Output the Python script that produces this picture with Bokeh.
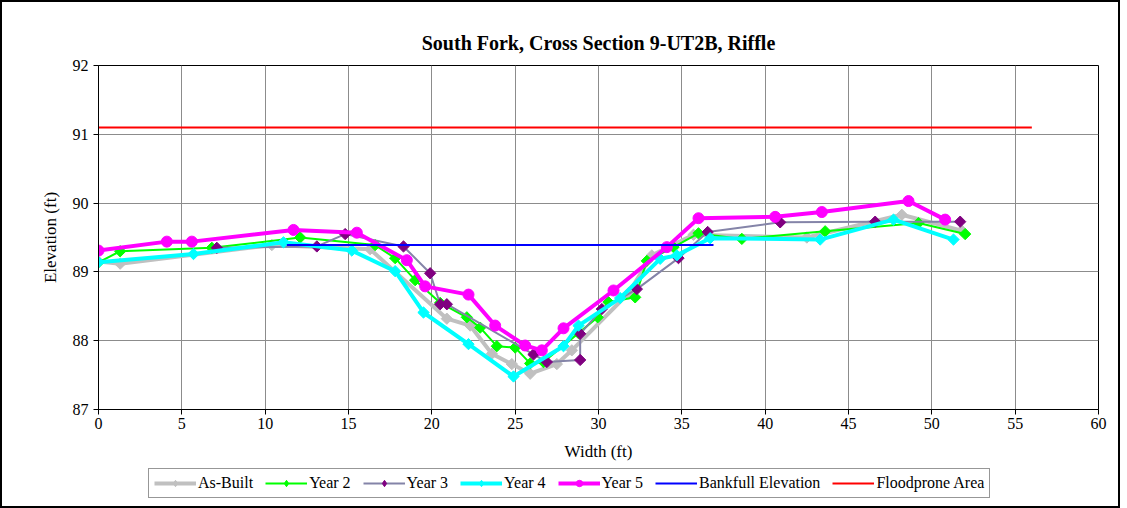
import math
from bokeh.plotting import figure
from bokeh.models import Range1d, Legend, LegendItem, FixedTicker
from bokeh.layouts import column
from bokeh.embed import file_html
from bokeh.resources import INLINE

# ---- data ----
asbuilt_x = [0, 1.3, 10.4, 16.3, 20.9, 22.3, 23.6, 24.8, 25.9, 27.5, 28.4, 31.8, 33.2, 35.7, 42.5, 48.2, 51.8]
asbuilt_y = [89.15, 89.12, 89.39, 89.33, 88.32, 88.22, 87.81, 87.66, 87.52, 87.66, 87.86, 88.69, 89.24, 89.54, 89.5, 89.83, 89.6]

year2_x = [0, 1.3, 6.8, 12.1, 16.6, 17.8, 19.0, 20.5, 22.1, 22.9, 23.9, 25.0, 25.9, 26.7, 28.8, 29.95, 30.6, 32.2, 32.9, 34.5, 36.0, 38.6, 43.6, 49.2, 52.0]
year2_y = [89.14, 89.3, 89.35, 89.5, 89.39, 89.2, 88.88, 88.55, 88.34, 88.19, 87.92, 87.9, 87.67, 87.69, 88.11, 88.34, 88.56, 88.63, 89.16, 89.36, 89.56, 89.48, 89.59, 89.71, 89.55]

year3_x = [7.1, 13.1, 14.8, 18.3, 19.9, 20.5, 20.9, 26.1, 26.9, 28.9, 28.9, 30.2, 32.3, 34.8, 36.55, 40.9, 46.6, 51.7]
year3_y = [89.35, 89.37, 89.55, 89.37, 88.98, 88.53, 88.53, 87.8, 87.69, 87.72, 88.1, 88.46, 88.75, 89.2, 89.58, 89.72, 89.73, 89.73]

year4_x = [0, 5.7, 11.1, 15.2, 17.8, 19.5, 22.2, 24.9, 27.9, 28.8, 31.3, 33.7, 34.7, 36.7, 43.3, 47.7, 51.3]
year4_y = [89.14, 89.26, 89.43, 89.31, 89.01, 88.41, 87.95, 87.48, 87.92, 88.22, 88.62, 89.19, 89.24, 89.49, 89.47, 89.76, 89.47]

year5_x = [0, 4.1, 5.6, 11.7, 15.5, 18.5, 19.6, 22.2, 23.8, 25.6, 26.6, 27.9, 30.9, 34.1, 36.0, 40.6, 43.4, 48.6, 50.8]
year5_y = [89.31, 89.44, 89.44, 89.61, 89.57, 89.17, 88.79, 88.67, 88.22, 87.93, 87.86, 88.18, 88.73, 89.36, 89.78, 89.8, 89.87, 90.03, 89.76]

bankfull_x = [11.3, 36.9]
bankfull_y = [89.39, 89.39]

flood_x = [0, 56]
flood_y = [91.1, 91.1]

series_names = ["As-Built", "Year 2", "Year 3", "Year 4", "Year 5", "Bankfull Elevation", "Floodprone Area"]

x_ticks = [0, 5, 10, 15, 20, 25, 30, 35, 40, 45, 50, 55, 60]
y_ticks = [87, 88, 89, 90, 91, 92]

FONT = "Liberation Serif"

# style per series: (line color, line width, marker, marker color)
styles = [
    ("#c0c0c0", 4, "square", "#c0c0c0"),
    ("#00ff00", 2, "square", "#00ff00"),
    ("#8484a8", 2, "square", "#800080"),
    ("#00ffff", 4, "square", "#00ffff"),
    ("#ff00ff", 4, "circle", "#ff00ff"),
    ("#0000ff", 2, None, None),
    ("#ff0000", 2, None, None),
]
MARK_SIZE = {"square": 8, "circle": 11}
LEG_MARK = {"square": ("diamond", 10), "circle": ("circle", 10)}

p = figure(width=1116, height=463, output_backend="svg", toolbar_location=None,
           x_range=Range1d(0, 60), y_range=Range1d(87, 92),
           title="South Fork, Cross Section 9-UT2B, Riffle",
           min_border_left=96, min_border_right=20, min_border_top=63, min_border_bottom=56)

p.title.align = "center"
p.title.text_font = FONT
p.title.text_font_size = "20px"
p.title.text_font_style = "bold"
p.title.text_color = "black"
p.title.standoff = 23

for ax in (p.xaxis, p.yaxis):
    ax.axis_label_text_font = FONT
    ax.axis_label_text_font_size = "17px"
    ax.axis_label_text_font_style = "normal"
    ax.axis_label_text_color = "black"
    ax.major_label_text_font = FONT
    ax.major_label_text_font_size = "16px"
    ax.major_label_text_color = "black"
    ax.axis_line_color = "black"
    ax.major_tick_line_color = "black"
    ax.major_tick_out = 5
    ax.major_tick_in = 0
    ax.minor_tick_line_color = None

p.xaxis.axis_label = "Width (ft)"
p.yaxis.axis_label = "Elevation (ft)"
p.xaxis.ticker = FixedTicker(ticks=x_ticks)
p.yaxis.ticker = FixedTicker(ticks=y_ticks)
p.xaxis.major_label_standoff = 3
p.yaxis.major_label_standoff = 5
p.xaxis.axis_label_standoff = 10
p.yaxis.axis_label_standoff = 10

p.xgrid.ticker = FixedTicker(ticks=x_ticks)
p.ygrid.ticker = FixedTicker(ticks=y_ticks)
p.grid.grid_line_color = "#8c8c8c"
p.grid.grid_line_width = 1
p.outline_line_color = "black"

data = [(asbuilt_x, asbuilt_y), (year2_x, year2_y), (year3_x, year3_y), (year4_x, year4_y),
        (year5_x, year5_y), (bankfull_x, bankfull_y), (flood_x, flood_y)]
for (xs, ys), (lc, lw, mk, mc) in zip(data, styles):
    p.line(xs, ys, line_color=lc, line_width=lw)
    if mk:
        p.scatter(xs, ys, marker=mk, size=MARK_SIZE[mk], angle=math.pi / 4,
                  fill_color=mc, line_color=mc)

# legend strip below (separate canvas so it is not clipped); the series are
# drawn here outside its visible range only so the legend can show their glyphs
p2 = figure(width=1116, height=41, output_backend="svg", toolbar_location=None,
            x_range=Range1d(0, 60), y_range=Range1d(0, 1),
            x_axis_location=None, y_axis_location=None,
            min_border_left=0, min_border_right=0, min_border_top=0, min_border_bottom=0)
p2.grid.visible = False
p2.outline_line_color = None

items = []
for name, (xs, ys), (lc, lw, mk, mc) in zip(series_names, data, styles):
    rs = [p2.line(xs, ys, line_color=lc, line_width=lw)]
    if mk:
        lm, ls = LEG_MARK[mk]
        rs.append(p2.scatter(xs, ys, marker=lm, size=ls, fill_color=mc, line_color=mc))
    items.append(LegendItem(label=name, renderers=rs))

legend = Legend(items=items, orientation="horizontal", location=(50, 8))
legend.label_text_font = FONT
legend.label_text_font_size = "16px"
legend.label_text_color = "black"
legend.glyph_width = 42
legend.glyph_height = 16
legend.label_standoff = 2
legend.spacing = 12
legend.padding = 5
legend.margin = 0
legend.border_line_color = "#303030"
legend.border_line_width = 1
legend.background_fill_color = "white"
p2.add_layout(legend, "center")

layout = column(p, p2, spacing=0)
layout.styles = {"border": "2px solid black"}

open("out.html", "w").write(file_html(layout, INLINE))
